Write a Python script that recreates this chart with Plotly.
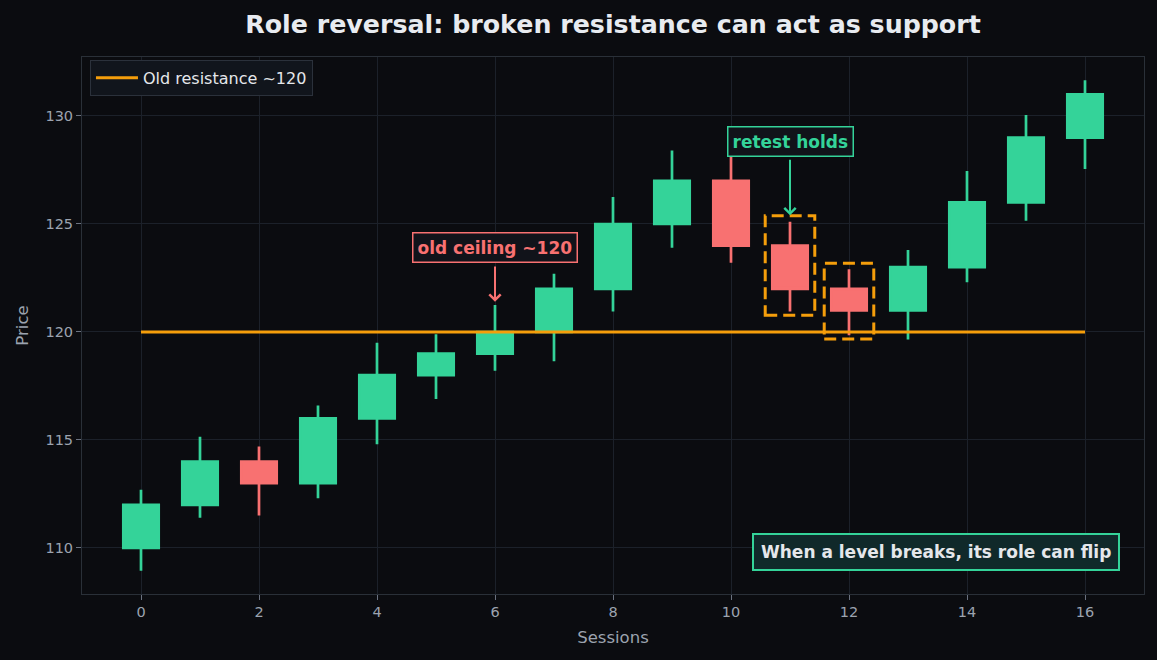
import plotly.graph_objects as go

sessions = list(range(17))
opens  = [110, 112, 114, 113, 116, 118, 119, 120, 122, 125, 127, 124, 122, 121, 123, 126, 129]
closes = [112, 114, 113, 116, 118, 119, 120, 122, 125, 127, 124, 122, 121, 123, 126, 129, 131]
highs  = [112.7, 115.15, 114.7, 116.6, 119.5, 119.9, 121.25, 122.7, 126.25, 128.4, 128.2, 125.1, 122.9, 123.8, 127.45, 130.05, 131.65]
lows   = [108.95, 111.4, 111.5, 112.3, 114.8, 116.9, 118.2, 118.65, 120.95, 123.9, 123.2, 120.95, 119.85, 119.65, 122.3, 125.15, 127.55]

resistance_level = 120
resistance_x = [0, 16]
highlight_idx = [11, 12]

GREEN = "#34d399"
RED = "#f87171"
ORANGE = "#f59e0b"
BG = "#0b0c10"
GRID = "#1c212a"
TICK = "#9ca3af"
FONT = "DejaVu Sans"

fig = go.Figure()
fig.add_trace(go.Candlestick(
    x=sessions, open=opens, high=highs, low=lows, close=closes,
    increasing=dict(line=dict(color=GREEN, width=2.7), fillcolor=GREEN),
    decreasing=dict(line=dict(color=RED, width=2.7), fillcolor=RED),
    showlegend=False, name="Price",
))
fig.add_trace(go.Scatter(
    x=resistance_x, y=[resistance_level] * len(resistance_x), mode="lines",
    line=dict(color=ORANGE, width=3), name="Old resistance ~120",
))

for i in highlight_idx:
    fig.add_shape(type="rect", xref="x", yref="y",
                  x0=sessions[i] - 0.42, x1=sessions[i] + 0.42,
                  y0=lows[i] - 0.17, y1=highs[i] + 0.28,
                  line=dict(color=ORANGE, width=3, dash="12px,6px"),
                  fillcolor="rgba(0,0,0,0)")

fig.add_annotation(x=6, y=121.4, ax=6, ay=123.9, axref="x", ayref="y",
                   text="<b>old ceiling ~120</b>", showarrow=True,
                   arrowhead=4, arrowsize=1.1, arrowwidth=2, arrowcolor=RED,
                   font=dict(color=RED, size=17, family=FONT),
                   bgcolor="#11131a", bordercolor=RED, borderwidth=1.5, borderpad=4,
                   standoff=0, startstandoff=4)
fig.add_annotation(x=11, y=125.4, ax=11, ay=128.84, axref="x", ayref="y",
                   text="<b>retest holds</b>", showarrow=True,
                   arrowhead=4, arrowsize=1.1, arrowwidth=2, arrowcolor=GREEN,
                   font=dict(color=GREEN, size=17, family=FONT),
                   bgcolor="#11131a", bordercolor=GREEN, borderwidth=1.5, borderpad=4,
                   standoff=0, startstandoff=4)
fig.add_annotation(x=0.977, y=0.078, xref="paper", yref="paper",
                   xanchor="right", yanchor="middle",
                   text="<b>When a level breaks, its role can flip</b>", showarrow=False,
                   font=dict(color="#e5e7eb", size=17, family=FONT),
                   bgcolor="#10292a", bordercolor=GREEN, borderwidth=2, borderpad=7)

fig.update_layout(
    width=1157, height=660,
    paper_bgcolor=BG, plot_bgcolor=BG,
    margin=dict(l=82, r=13, t=57, b=66),
    boxgap=0.4, boxgroupgap=0,
    title=dict(text="<b>Role reversal: broken resistance can act as support</b>",
               xref="paper", x=0.5, xanchor="center", y=0.963, yanchor="middle",
               font=dict(size=25.3, color="#e8ebf0", family=FONT)),
    font=dict(family=FONT, color=TICK),
    legend=dict(x=0.0075, y=0.961, xanchor="left", yanchor="middle",
                bgcolor="#11151c", bordercolor="#2b313b", borderwidth=1,
                itemwidth=42,
                font=dict(size=16, color="#e5e7eb", family=FONT)),
    xaxis=dict(range=[-1, 17], tickmode="array", tickvals=list(range(0, 17, 2)),
               title=dict(text="Sessions", font=dict(size=16.5, color=TICK), standoff=12),
               tickfont=dict(size=14.5, color=TICK), gridcolor=GRID, showgrid=True,
               zeroline=False, showline=True, linecolor="#2a3038", mirror=True,
               ticks="outside", ticklen=5, tickcolor="#6b7280",
               rangeslider=dict(visible=False)),
    yaxis=dict(range=[107.87, 132.73], tickvals=[110, 115, 120, 125, 130],
               title=dict(text="Price", font=dict(size=16.5, color=TICK), standoff=12),
               tickfont=dict(size=14.5, color=TICK), gridcolor=GRID, showgrid=True,
               zeroline=False, showline=True, linecolor="#2a3038", mirror=True,
               ticks="outside", ticklen=5, tickcolor="#6b7280"),
)

fig.write_html("out.html")
